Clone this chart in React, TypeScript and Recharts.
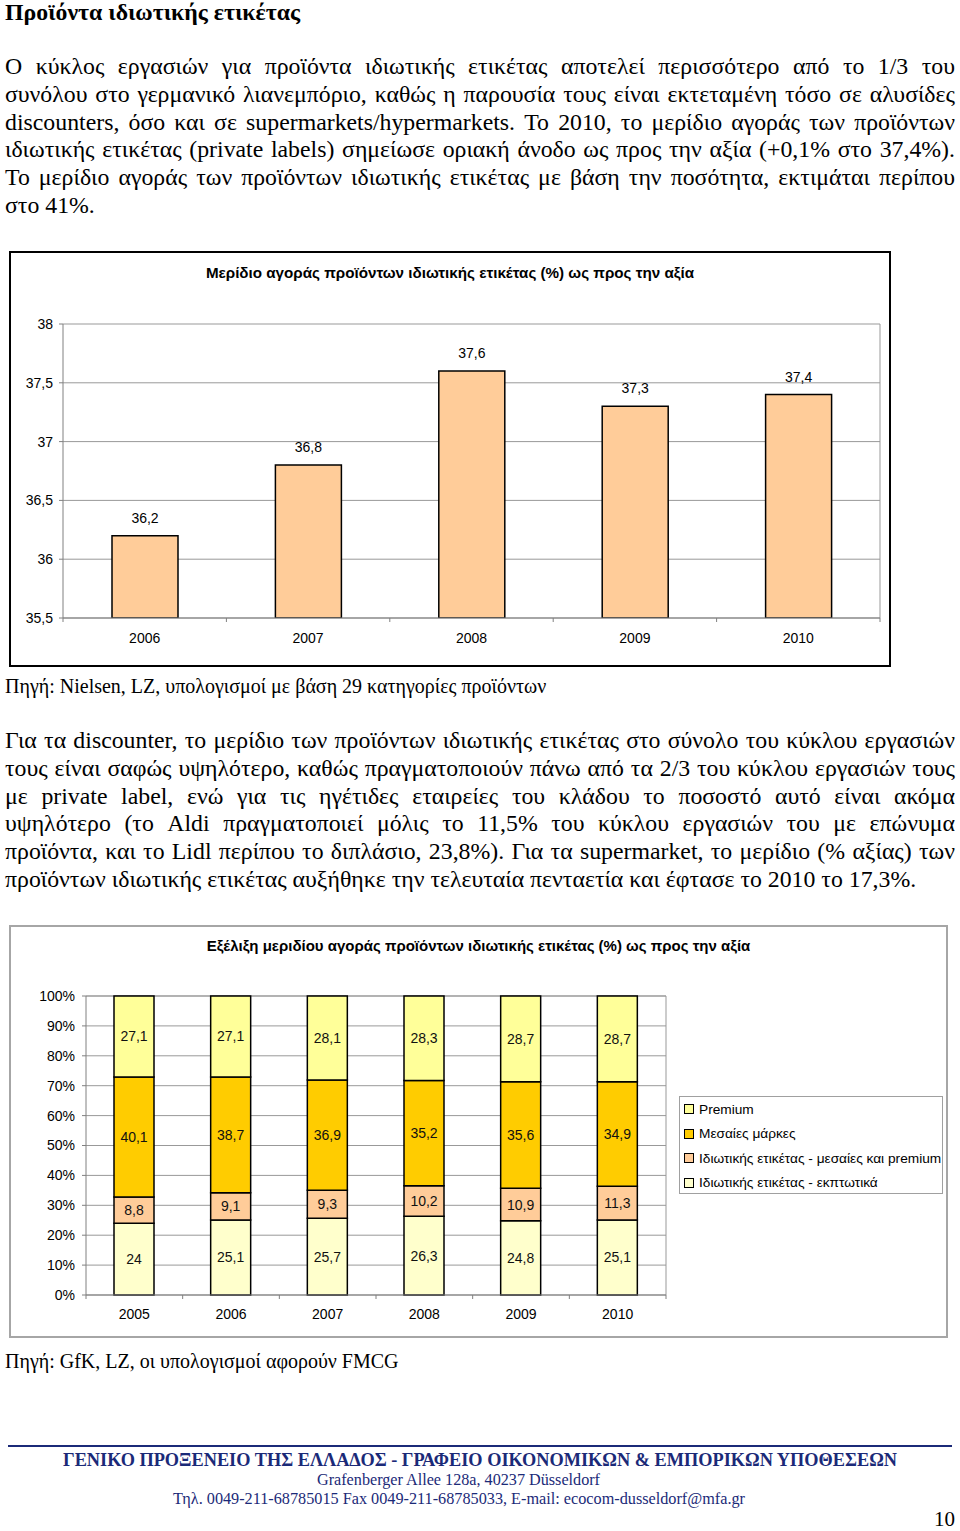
import React from "react";
import { BarChart, Bar, XAxis, YAxis, CartesianGrid, LabelList, Legend } from "recharts";

// chart 1: market share by value
const years1 = ["2006", "2007", "2008", "2009", "2010"];
const share1 = [36.2, 36.8, 37.6, 37.3, 37.4];
const ticks1 = [35.5, 36, 36.5, 37, 37.5, 38];

// chart 2: share development (stacked, sums to 100)
const years2 = ["2005", "2006", "2007", "2008", "2009", "2010"];
const plDiscount = [24, 25.1, 25.7, 26.3, 24.8, 25.1];
const plMidPremium = [8.8, 9.1, 9.3, 10.2, 10.9, 11.3];
const midBrands = [40.1, 38.7, 36.9, 35.2, 35.6, 34.9];
const premium = [27.1, 27.1, 28.1, 28.3, 28.7, 28.7];
const ticks2 = [0, 10, 20, 30, 40, 50, 60, 70, 80, 90, 100];

const series2 = [
  { key: "plDiscount", name: "Ιδιωτικής ετικέτας - εκπτωτικά", color: "#FFFFCC" },
  { key: "plMidPremium", name: "Ιδιωτικής ετικέτας - μεσαίες και premium", color: "#FFCC99" },
  { key: "midBrands", name: "Μεσαίες μάρκες", color: "#FFCC00" },
  { key: "premium", name: "Premium", color: "#FFFF99" },
];

const para1 = [
  "Ο κύκλος εργασιών για προϊόντα ιδιωτικής ετικέτας αποτελεί περισσότερο από το 1/3 του",
  "συνόλου στο γερμανικό λιανεμπόριο, καθώς η παρουσία τους είναι εκτεταμένη τόσο σε αλυσίδες",
  "discounters, όσο και σε supermarkets/hypermarkets. Το 2010, το μερίδιο αγοράς των προϊόντων",
  "ιδιωτικής ετικέτας (private labels) σημείωσε οριακή άνοδο ως προς την αξία (+0,1% στο 37,4%).",
  "Το μερίδιο αγοράς των προϊόντων ιδιωτικής ετικέτας με βάση την ποσότητα, εκτιμάται περίπου",
  "στο 41%.",
];

const para2 = [
  "Για τα discounter, το μερίδιο των προϊόντων ιδιωτικής ετικέτας στο σύνολο του κύκλου εργασιών",
  "τους είναι σαφώς υψηλότερο, καθώς πραγματοποιούν πάνω από τα 2/3 του κύκλου εργασιών τους",
  "με private label, ενώ για τις ηγέτιδες εταιρείες του κλάδου το ποσοστό αυτό είναι ακόμα",
  "υψηλότερο (το Aldi πραγματοποιεί μόλις το 11,5% του κύκλου εργασιών του με επώνυμα",
  "προϊόντα, και το Lidl περίπου το διπλάσιο, 23,8%). Για τα supermarket, το μερίδιο (% αξίας) των",
  "προϊόντων ιδιωτικής ετικέτας αυξήθηκε την τελευταία πενταετία και έφτασε το 2010 το 17,3%.",
];

const data1 = years1.map((year, i) => ({ year, value: share1[i] }));
const data2 = years2.map((year, i) => ({
  year,
  plDiscount: plDiscount[i],
  plMidPremium: plMidPremium[i],
  midBrands: midBrands[i],
  premium: premium[i],
}));

const SERIF = '"Liberation Serif", "Times New Roman", serif';
const SANS = '"Liberation Sans", Arial, sans-serif';
const comma = (v: any) => String(v).replace(".", ",");
const BODY = 23.8;

// chart boxes (page coordinates)
const C1 = { left: 9, top: 251, width: 882, height: 416 };
const M1 = { top: 73, right: 11, bottom: 19, left: 0 };
const Y1W = 54;
const C2 = { left: 9, top: 925, width: 939, height: 413 };
const M2 = { top: 71, right: 282, bottom: 13, left: 0 };
const Y2W = 77;

function BandTick(props: any) {
  const { x, y, payload, half, count, gap } = props;
  return (
    <g>
      <line x1={x - half} x2={x - half} y1={y} y2={y + 4} stroke="#808080" />
      {payload.index === count - 1 && (
        <line x1={x + half} x2={x + half} y1={y} y2={y + 4} stroke="#808080" />
      )}
      <text x={x} y={y + gap} textAnchor="middle" dominantBaseline="central" fontSize={14} fill="#000" fontFamily={SANS}>
        {payload.value}
      </text>
    </g>
  );
}

function JLine({ text, top, last }: { text: string; top: number; last?: boolean }) {
  return (
    <div
      style={{
        position: "absolute",
        left: 5,
        top,
        width: 950,
        fontFamily: SERIF,
        fontSize: BODY,
        lineHeight: "28px",
        whiteSpace: "nowrap",
        textAlign: last ? "left" : "justify",
        textAlignLast: last ? "left" : "justify",
        color: "#000",
      }}
    >
      {text}
    </div>
  );
}

function LegendBox() {
  const items = [...series2].reverse();
  return (
    <div
      style={{
        border: "1px solid #a0a0a0",
        boxSizing: "border-box",
        width: 264,
        height: 98,
        padding: "0 0 0 4px",
        background: "#fff",
        fontFamily: SANS,
        fontSize: 13.7,
      }}
    >
      {items.map((it) => (
        <div key={it.key} style={{ display: "flex", alignItems: "center", height: 24.5, whiteSpace: "nowrap" }}>
          <span
            style={{
              display: "inline-block",
              width: 8,
              height: 8,
              background: it.color,
              border: "1px solid #000",
              marginRight: 5,
            }}
          />
          <span>{it.name}</span>
        </div>
      ))}
    </div>
  );
}

export default function App() {
  const band1 = (C1.width - M1.right - Y1W) / years1.length / 2;
  const band2 = (C2.width - M2.right - Y2W) / years2.length / 2;

  return (
    <div style={{ position: "absolute", left: 0, top: 0, width: 960, height: 1531, background: "#fff", overflow: "hidden" }}>
      <div style={{ position: "absolute", left: 5, top: -2, fontFamily: SERIF, fontWeight: "bold", fontSize: BODY, lineHeight: "28px" }}>
        Προϊόντα ιδιωτικής ετικέτας
      </div>

      {para1.map((t, i) => (
        <JLine key={i} text={t} top={52 + i * 27.8} last={i === para1.length - 1} />
      ))}

      {/* chart 1 */}
      <div
        style={{
          position: "absolute",
          ...C1,
          border: "2px solid #000",
          boxSizing: "border-box",
        }}
      />
      <div
        style={{
          position: "absolute",
          left: C1.left,
          top: C1.top + 13,
          width: C1.width,
          textAlign: "center",
          fontFamily: SANS,
          fontWeight: "bold",
          fontSize: 15.2,
          lineHeight: "18px",
        }}
      >
        Μερίδιο αγοράς προϊόντων ιδιωτικής ετικέτας (%) ως προς την αξία
      </div>
      <div style={{ position: "absolute", left: C1.left, top: C1.top }}>
        <BarChart width={C1.width} height={C1.height} data={data1} margin={M1}>
          <CartesianGrid
            stroke="#999"
            vertical={true}
            verticalCoordinatesGenerator={({ offset }: any) => [offset.left + offset.width]}
          />
          <XAxis
            dataKey="year"
            stroke="#808080"
            height={30}
            tickSize={0}
            tickMargin={0}
            interval={0}
            tick={(p: any) => <BandTick {...p} half={band1} count={years1.length} gap={20} />}
          />
          <YAxis
            width={Y1W}
            domain={[35.5, 38]}
            ticks={ticks1}
            allowDataOverflow
            stroke="#808080"
            tickSize={4}
            tickMargin={6}
            tickFormatter={comma}
            tick={{ fill: "#000", fontSize: 14, fontFamily: SANS }}
          />
          <Bar dataKey="value" fill="#FFCC99" stroke="#000" strokeWidth={1.5} barSize={66} isAnimationActive={false}>
            <LabelList dataKey="value" position="top" offset={13} formatter={comma} fill="#000" fontSize={14} fontFamily={SANS} />
          </Bar>
        </BarChart>
      </div>

      <div style={{ position: "absolute", left: 5, top: 674, fontFamily: SERIF, fontSize: 20, lineHeight: "24px" }}>
        Πηγή: Nielsen, LZ, υπολογισμοί με βάση 29 κατηγορίες προϊόντων
      </div>

      {para2.map((t, i) => (
        <JLine key={i} text={t} top={726 + i * 27.8} last={i === para2.length - 1} />
      ))}

      {/* chart 2 */}
      <div
        style={{
          position: "absolute",
          ...C2,
          border: "2px solid #a6a6a6",
          boxSizing: "border-box",
        }}
      />
      <div
        style={{
          position: "absolute",
          left: C2.left,
          top: C2.top + 12,
          width: C2.width,
          textAlign: "center",
          fontFamily: SANS,
          fontWeight: "bold",
          fontSize: 15,
          lineHeight: "18px",
        }}
      >
        Εξέλιξη μεριδίου αγοράς προϊόντων ιδιωτικής ετικέτας (%) ως προς την αξία
      </div>
      <div style={{ position: "absolute", left: C2.left, top: C2.top }}>
        <BarChart width={C2.width} height={C2.height} data={data2} margin={M2}>
          <CartesianGrid
            stroke="#999"
            vertical={true}
            verticalCoordinatesGenerator={({ offset }: any) => [offset.left + offset.width]}
          />
          <XAxis
            dataKey="year"
            stroke="#808080"
            height={30}
            tickSize={0}
            tickMargin={0}
            interval={0}
            tick={(p: any) => <BandTick {...p} half={band2} count={years2.length} gap={19} />}
          />
          <YAxis
            width={Y2W}
            domain={[0, 100]}
            ticks={ticks2}
            stroke="#808080"
            tickSize={4}
            tickMargin={7}
            tickFormatter={(v: number) => `${v}%`}
            tick={{ fill: "#000", fontSize: 14, fontFamily: SANS }}
          />
          <Legend
            layout="vertical"
            align="center"
            verticalAlign="middle"
            wrapperStyle={{ left: 670, top: 171, width: 264, height: 98 }}
            content={() => <LegendBox />}
          />
          {series2.map((s) => (
            <Bar
              key={s.key}
              dataKey={s.key}
              name={s.name}
              stackId="a"
              fill={s.color}
              stroke="#000"
              strokeWidth={1.5}
              barSize={40}
              isAnimationActive={false}
            >
              <LabelList dataKey={s.key} position="center" formatter={comma} fill="#111" fontSize={14} fontFamily={SANS} />
            </Bar>
          ))}
        </BarChart>
      </div>

      <div style={{ position: "absolute", left: 5, top: 1349, fontFamily: SERIF, fontSize: 20, lineHeight: "24px" }}>
        Πηγή: GfK, LZ, οι υπολογισμοί αφορούν FMCG
      </div>

      {/* footer */}
      <div style={{ position: "absolute", left: 8, top: 1445, width: 944, height: 2, background: "#1b2a78" }} />
      <svg style={{ position: "absolute", left: 0, top: 1448 }} width={960} height={62}>
        <text x={63} y={18} textLength={834} lengthAdjust="spacingAndGlyphs" fontFamily={SERIF} fontWeight="bold" fontSize={18} fill="#1b2a78">
          ΓΕΝΙΚΟ ΠΡΟΞΕΝΕΙΟ ΤΗΣ ΕΛΛΑΔΟΣ - ΓΡΑΦΕΙΟ ΟΙΚΟΝΟΜΙΚΩΝ &amp;  ΕΜΠΟΡΙΚΩΝ ΥΠΟΘΕΣΕΩΝ
        </text>
        <text x={317} y={37} textLength={283} lengthAdjust="spacingAndGlyphs" fontFamily={SERIF} fontSize={16} fill="#1b2a78">
          Grafenberger Allee 128a, 40237 Düsseldorf
        </text>
        <text x={173} y={56} textLength={572} lengthAdjust="spacingAndGlyphs" fontFamily={SERIF} fontSize={16} fill="#1b2a78">
          Τηλ. 0049-211-68785015  Fax 0049-211-68785033, E-mail: ecocom-dusseldorf@mfa.gr
        </text>
      </svg>
      <div style={{ position: "absolute", left: 934, top: 1509, fontFamily: SERIF, fontSize: 21, lineHeight: "20px" }}>10</div>
    </div>
  );
}
